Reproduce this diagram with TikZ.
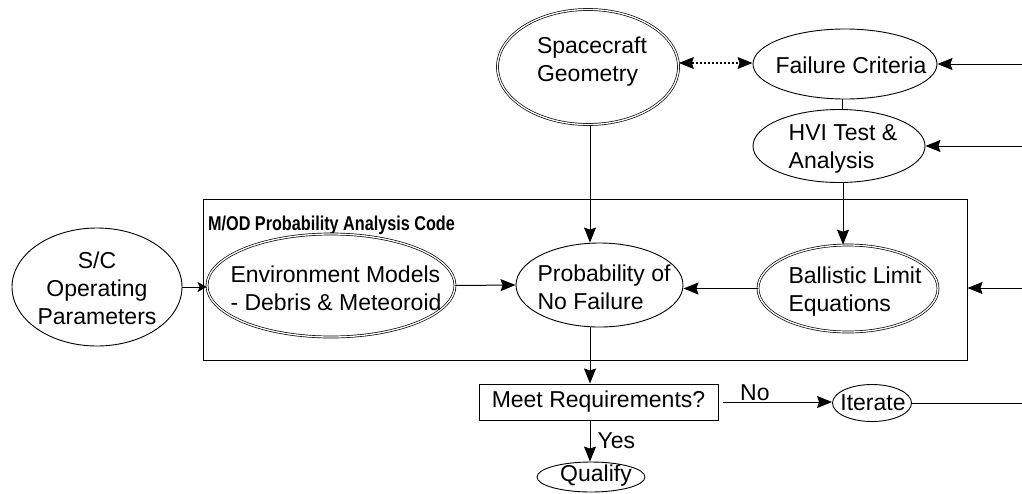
\documentclass[tikz,border=0pt]{standalone}
\usepackage{fontspec}
\setmainfont{Liberation Sans}
\usetikzlibrary{shapes.geometric,arrows.meta}
\begin{document}
\begin{tikzpicture}[x=1pt,y=1pt,
  every node/.style={font=\fontsize{23}{28}\selectfont, inner sep=0pt},
  oval/.style={draw, ellipse, line width=0.9pt},
  doval/.style={draw, ellipse, double, double distance=1.3pt, line width=0.7pt},
  arr/.style={line width=1pt, -{Stealth[length=15pt,width=12pt,inset=2pt]}},
  darr/.style={line width=2pt, dash pattern=on 2pt off 2pt,
    {Stealth[length=15pt,width=12pt,inset=2pt,line width=0pt]}-{Stealth[length=15pt,width=12pt,inset=2pt,line width=0pt]}},
  link/.style={line width=1pt}]
% page frame, y measured downwards as negative values
\useasboundingbox (0,0) rectangle (1022,-493);

% upper inputs (outline first, text on top)
\node[doval, minimum width=181pt, minimum height=115pt] (geo) at (588,-67) {};
\node[align=left] (geot) at (592,-62) {Spacecraft\\Geometry};
\node[oval, minimum width=184pt, minimum height=70pt] (fail) at (845,-64) {};
\node (failt) at (851,-65) {Failure Criteria};
\node[oval, minimum width=172pt, minimum height=73pt] (hvi) at (839,-146) {};
\node[align=left] (hvit) at (843,-149) {HVI Test \&\\Analysis};

% analysis code frame
\node[draw, line width=1pt, minimum width=764pt, minimum height=161pt] (code) at (585,-279.5) {};
\node[anchor=base west, font=\bfseries\fontsize{20}{22}\selectfont] (title) at (208,-230)
  {\scalebox{0.81}[1]{M/OD Probability Analysis Code}};

\node[doval, minimum width=180pt, minimum height=87pt] (ball) at (848,-288.5) {};
\node[align=left] (ballt) at (855,-292) {Ballistic Limit\\Equations};
\node[oval, minimum width=167pt, minimum height=84pt] (prob) at (599.5,-285) {};
\node[align=left] (probt) at (604,-287) {Probability of\\No Failure};
\node[doval, minimum width=248pt, minimum height=103pt] (env) at (331,-285.5) {};
\node[align=left] (envt) at (336,-288) {Environment Models\\- Debris \& Meteoroid};
\node[oval, minimum width=170pt, minimum height=118pt] (sc) at (97,-287) {};
\node[align=center] (sct) at (97,-288) {S/C\\Operating\\Parameters};

% decision part
\node[draw, line width=1pt, minimum width=239pt, minimum height=36pt] (meet) at (598.5,-402) {Meet Requirements?};
\node[oval, minimum width=79pt, minimum height=37pt] (iter) at (872,-403) {};
\node (itert) at (873,-403) {Iterate};
\node[oval, minimum width=108pt, minimum height=30pt] (qual) at (591,-477) {};
\node (qualt) at (596,-476) {Qualify};

% helper coordinates
\coordinate (r1) at (1022,-64);
\coordinate (r2) at (1022,-146);
\coordinate (r3) at (1022,-288);
\coordinate (r4) at (1022,-403);
\coordinate (col) at (590,0);
\coordinate (fh) at (842,0);
\coordinate (hb) at (843,0);
\coordinate (dl) at (0,-63);

% connectors
\draw[arr] (r1) -- (fail.east);
\draw[arr] (r2) -- (hvi.east);
\draw[arr] (r3) -- (code.east |- r3);
\draw[link] (fail.south -| fh) -- (hvi.north -| fh);
\draw[arr] (hvi.south -| hb) -- (ball.north -| hb);
\draw[arr] (ball.west) -- (prob.east |- ball.west);
\draw[arr] (env.east) -- (prob.west);
\draw[line width=1pt, -{Stealth[length=9pt,width=10pt,inset=2pt]}] (sc.east) -- (sc.east -| env.west);
\draw[darr] (geo.east |- dl) -- (fail.west |- dl);
\draw[arr] (geo.south -| col) -- (prob.north -| col);
\draw[arr] (prob.south -| col) -- (meet.north -| col);
\draw[arr] (meet.south -| col) -- (qual.north -| col) node[pos=0.48, right=7pt] (yes) {Yes};
\draw[arr, shorten <=4pt] (meet.east) -- (iter.west |- meet.east) node[pos=0.32, above=1pt] (no) {No};
\draw[link] (iter.east) -- (r4);
\end{tikzpicture}
\end{document}
